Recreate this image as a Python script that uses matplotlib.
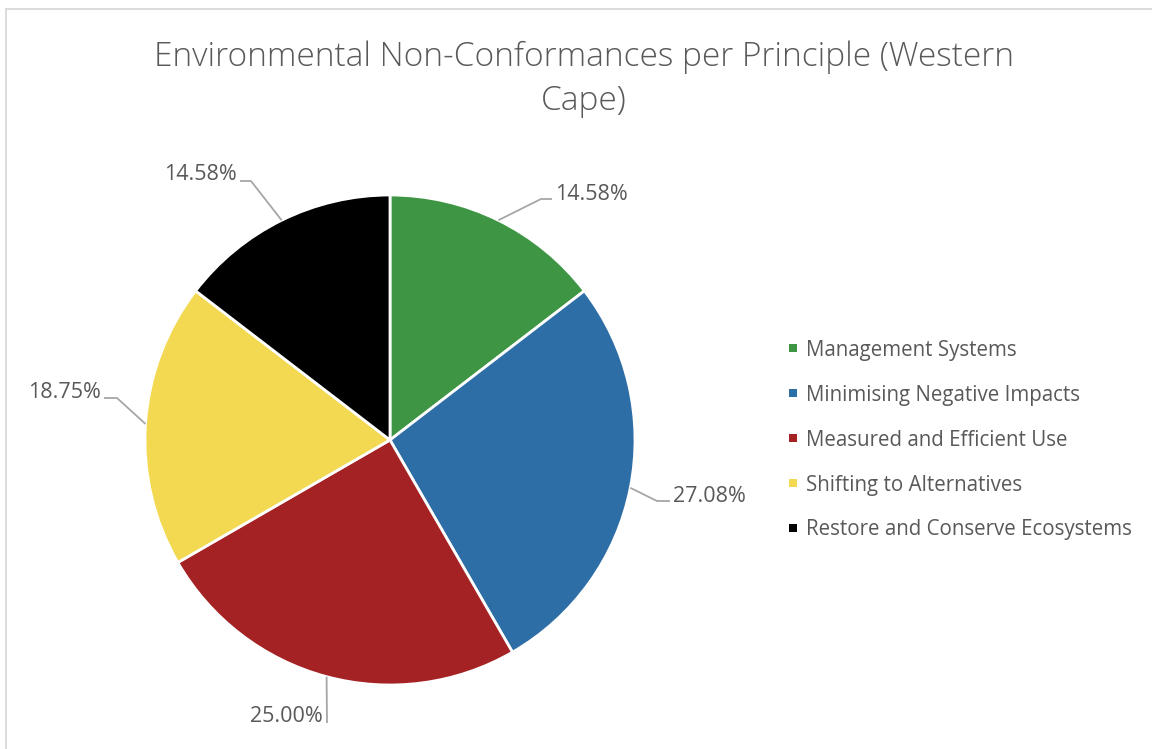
import numpy as np
import matplotlib.pyplot as plt
from matplotlib.patches import Rectangle

# dados (contagens de nao conformidades, total 48)
principios = ['Management Systems', 'Minimising Negative Impacts',
              'Measured and Efficient Use', 'Shifting to Alternatives',
              'Restore and Conserve Ecosystems']
contagens = [7, 13, 12, 9, 7]
cores = ['#3E9645', '#2E6EA6', '#A52224', '#F3D952', '#000000']

titulo = 'Environmental Non-Conformances per Principle (Western\nCape)'

W, H = 1152, 749
plt.rcParams['font.family'] = ['Open Sans', 'DejaVu Sans']
cinza = '#595959'

fig = plt.figure(figsize=(W / 100, H / 100), dpi=100)

# moldura do grafico (Excel)
fig.patches.append(Rectangle((6 / W, -0.05), 1.1, (H - 9) / H + 0.05,
                             transform=fig.transFigure, fill=False,
                             edgecolor='#D9D9D9', linewidth=1.3))

# eixo quadrado em pixels, centro do pie em (390, 440)
cx, cy, meia = 390, 440, 300
ax = fig.add_axes([(cx - meia) / W, (H - cy - meia) / H, 2 * meia / W, 2 * meia / H])
ax.set_xlim(-meia, meia)
ax.set_ylim(-meia, meia)
ax.axis('off')

R = 245
wedges, _ = ax.pie(contagens, colors=cores, startangle=90, counterclock=False,
                   radius=R, wedgeprops=dict(edgecolor='white', linewidth=2))
ax.set_xlim(-meia, meia)
ax.set_ylim(-meia, meia)

# posicoes das etiquetas (cotovelo, fim da linha, ancora do texto) em pixels
layout = [
    ((151, 241), (162, 241), (165, 246), 'left'),
    ((267, -61), (280, -61), (283, -56), 'left'),
    ((-63, -283), (-63, -283), (-67, -277), 'right'),
    ((-273, 42), (-286, 42), (-289, 48), 'right'),
    ((-139, 259), (-150, 259), (-153, 265), 'right'),
]
total = sum(contagens)
for w, c, (cot, fim, txt, ha) in zip(wedges, contagens, layout):
    ang = np.deg2rad((w.theta1 + w.theta2) / 2)
    x0, y0 = R * np.cos(ang), R * np.sin(ang)
    ax.plot([x0, cot[0], fim[0]], [y0, cot[1], fim[1]], color='#A6A6A6', lw=1.3,
            solid_capstyle='butt')
    ax.text(txt[0], txt[1], f'{100 * c / total:.2f}%', ha=ha, va='center',
            fontsize=15.5, color=cinza)

fig.text(584 / W, 1 - 79 / H, titulo, ha='center', va='center', fontsize=24,
         color=cinza, linespacing=1.4, fontweight='light')

# legenda manual
for i, (nome, cor) in enumerate(zip(principios, cores)):
    y = 348 + 45 * i
    fig.patches.append(Rectangle((789 / W, 1 - (y + 4) / H), 8 / W, 8 / H,
                                 transform=fig.transFigure, facecolor=cor,
                                 edgecolor='none'))
    fig.text(806 / W, 1 - (y + 2) / H, nome, ha='left', va='center', fontsize=14.8,
             color=cinza)

fig.savefig('out.png', dpi=100)
